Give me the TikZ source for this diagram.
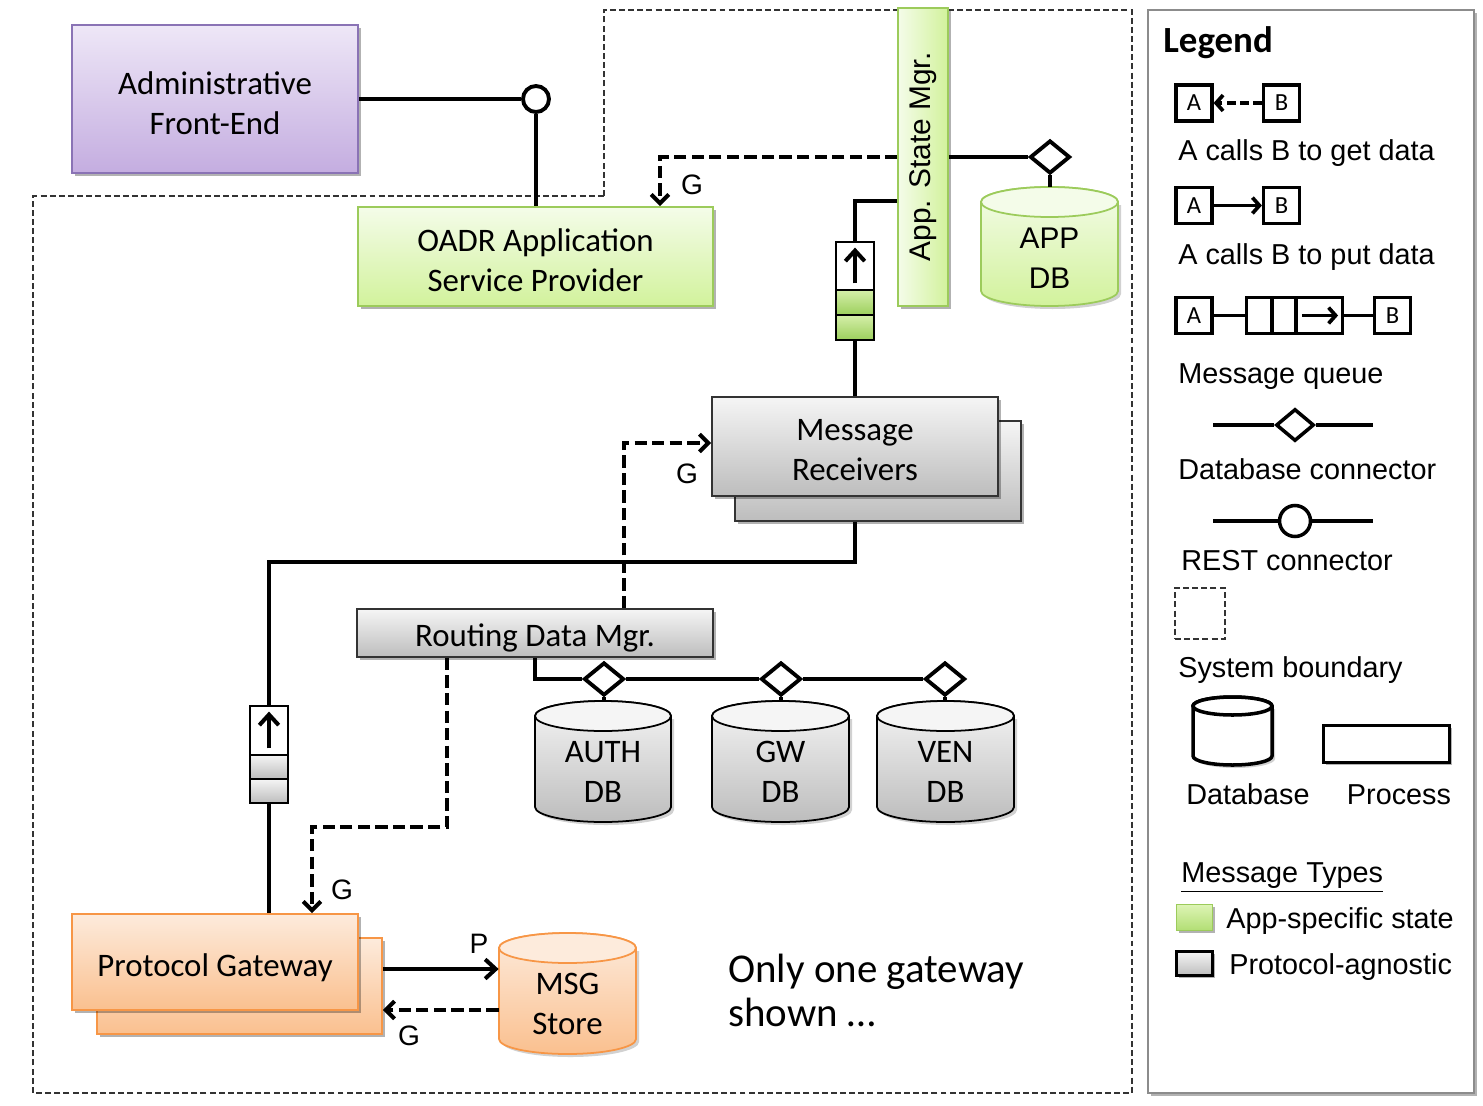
\documentclass[tikz,border=0pt]{standalone}
\usepackage{fontspec}
\usepackage{graphicx}
\setmainfont{Liberation Sans}
\newfontfamily\calfont{Carlito}
\usetikzlibrary{arrows.meta,shapes.geometric,shadows,calc}

\definecolor{purT}{HTML}{EEE7F7}
\definecolor{purB}{HTML}{C4ADE0}
\definecolor{purD}{HTML}{8A73B5}
\definecolor{grnT}{HTML}{F4FCE9}
\definecolor{grnB}{HTML}{D2F29C}
\definecolor{grnD}{HTML}{9CCB5B}
\definecolor{gryT}{HTML}{F5F5F5}
\definecolor{gryB}{HTML}{BDBDBD}
\definecolor{gryD}{HTML}{333333}
\definecolor{orgT}{HTML}{FDEBDC}
\definecolor{orgB}{HTML}{FAC08F}
\definecolor{orgD}{HTML}{F79646}
\definecolor{qgT}{HTML}{D5EFA9}
\definecolor{qgB}{HTML}{9CCF5D}
\definecolor{lgT}{HTML}{DDF4B5}
\definecolor{lgB}{HTML}{B2DE74}
\definecolor{legD}{HTML}{8C8C8C}

% cx, half width, top y, bottom y, ry, shading, draw opts, top fill
\newcommand{\dbcyl}[8]{%
  \fill[black,opacity=0.18] (#1-#2+3,#3+#5+3) -- (#1-#2+3,#4-#5+3)
     arc[start angle=180,end angle=0,x radius=#2,y radius=#5]
     -- (#1+#2+3,#3+#5+3) -- cycle;
  \path[#6,#7] (#1-#2,#3+#5) -- (#1-#2,#4-#5)
     arc[start angle=180,end angle=0,x radius=#2,y radius=#5]
     -- (#1+#2,#3+#5)
     arc[start angle=0,end angle=-180,x radius=#2,y radius=#5] -- cycle;
  \path[#7,fill=#8] (#1,#3+#5) ellipse[x radius=#2,y radius=#5];
}

\begin{document}
\begin{tikzpicture}[x=0.02cm,y=-0.02cm,
  conn/.style={line width=2.3pt},
  getarr/.style={line width=2.3pt, dash pattern=on 7pt off 3pt, -{Straight Barb[length=5pt,width=10pt]}},
  putarr/.style={line width=2.3pt, -{Straight Barb[length=6pt,width=11pt]}},
  sysb/.style={line width=0.85pt, dash pattern=on 3.4pt off 1.8pt, draw=black!80},
  boxtext/.style={font=\calfont\fontsize{18.7}{22.5}\selectfont, align=center, text=black, inner sep=0pt},
  arialtext/.style={font=\fontsize{17}{22.7}\selectfont, align=center, text=black},
  shad/.style={drop shadow={shadow xshift=1.5pt, shadow yshift=-1.5pt, opacity=0.3, fill=black}},
  proc/.style={rectangle, inner sep=0pt, line width=1pt, shad},
  purplebox/.style={proc, top color=purT, bottom color=purB, draw=purD},
  greenbox/.style={proc, top color=grnT, bottom color=grnB, draw=grnD},
  graybox/.style={proc, top color=gryT, bottom color=gryB, draw=gryD},
  orangebox/.style={proc, top color=orgT, bottom color=orgB, draw=orgD},
  qcell/.style={rectangle, draw=black, line width=1.6pt, inner sep=0pt, minimum width=0.76cm},
  dbconn/.style={diamond, draw=black, fill=white, line width=2.2pt, inner sep=0pt, minimum width=0.8cm, minimum height=0.66cm},
  restconn/.style={circle, draw=black, fill=white, line width=2.2pt, inner sep=0pt, minimum size=0.52cm},
  lbl/.style={font=\fontsize{16}{19}\selectfont, inner sep=0pt},
  legtxt/.style={font=\fontsize{16.4}{19}\selectfont, inner sep=0pt, anchor=west, text height=12pt, text depth=3.5pt},
  legbox/.style={rectangle, draw=black, line width=1.8pt, inner sep=0pt, minimum size=0.72cm, font=\calfont\fontsize{14}{16}\selectfont},
  lconn/.style={line width=2.1pt},
  lgetarr/.style={line width=2.1pt, dash pattern=on 5pt off 2.5pt, -{Straight Barb[length=4pt,width=9pt]}},
  lputarr/.style={line width=2.1pt, -{Straight Barb[length=4pt,width=9pt]}}
]
\useasboundingbox (0,0) rectangle (1483,1105);

% system boundary
\draw[sysb] (604,196) -- (604,10) -- (1132,10) -- (1132,1093) -- (33,1093) -- (33,196) -- cycle;

% legend frame
\node[rectangle, draw=legD, line width=1.2pt, fill=white, minimum width=6.52cm, minimum height=21.66cm, inner sep=0pt, shad] (legend) at (1311,551.5) {};

% main boxes
\node[purplebox, minimum width=5.72cm, minimum height=2.96cm] (admin) at (215,99) {};
\node[boxtext] (admint) at (215,103) {Administrative\\Front-End};
\node[greenbox, minimum width=7.1cm, minimum height=1.98cm] (oadr) at (535.5,256.5) {};
\node[boxtext] (oadrt) at (535.5,260) {OADR Application\\Service Provider};
\node[proc, left color=grnT, right color=grnB, draw=grnD, minimum width=1cm, minimum height=5.96cm, font=\fontsize{17}{20}\selectfont] (asm) at (923,157) {\rotatebox{90}{App. State Mgr.}};
\node[graybox, minimum width=5.72cm, minimum height=2cm] (mrback) at (878,471) {};
\node[graybox, minimum width=5.72cm, minimum height=1.98cm] (mr) at (855,446.5) {};
\node[boxtext] (mrt) at (855,450) {Message\\Receivers};
\node[graybox, minimum width=7.12cm, minimum height=0.96cm] (rdm) at (535,633) {};
\node[boxtext] (rdmt) at (535,638) {Routing Data Mgr.};
\node[orangebox, minimum width=5.7cm, minimum height=1.92cm] (pgback) at (239.5,986) {};
\node[orangebox, minimum width=5.72cm, minimum height=1.92cm] (pg) at (215,962) {};
\node[boxtext] (pgt) at (215,968) {Protocol Gateway};

% queues
\node[qcell, fill=white, minimum height=0.96cm] (q1a) at (855,266) {};
\node[qcell, top color=qgT, bottom color=qgB, minimum height=0.5cm] (q1b) at (855,302.5) {};
\node[qcell, top color=qgT, bottom color=qgB, minimum height=0.5cm] (q1c) at (855,327.5) {};
\node[qcell, fill=white, minimum height=0.98cm] (q2a) at (269,730.5) {};
\node[qcell, top color=gryT, bottom color=gryB, minimum height=0.48cm] (q2b) at (269,767) {};
\node[qcell, top color=gryT, bottom color=gryB, minimum height=0.48cm] (q2c) at (269,791) {};

% databases
\dbcyl{1049.5}{68.5}{187}{306}{15}{top color=grnT, bottom color=grnB}{draw=grnD, line width=1pt}{grnT}
\dbcyl{603}{68}{701}{822}{15}{top color=gryT, bottom color=gryB}{draw=black, line width=1pt}{gryT}
\dbcyl{780.5}{68.5}{701}{822}{15}{top color=gryT, bottom color=gryB}{draw=black, line width=1pt}{gryT}
\dbcyl{945.5}{68.5}{701}{822}{15}{top color=gryT, bottom color=gryB}{draw=black, line width=1pt}{gryT}
\dbcyl{567.5}{68.5}{933}{1054}{15}{top color=orgT, bottom color=orgB}{draw=orgD, line width=1pt}{orgT}

\node[arialtext, minimum width=2.74cm, inner sep=0pt] (appdb) at (1049.5,258) {APP\\DB};
\node[boxtext, minimum width=2.72cm] (authdb) at (603,772) {AUTH\\DB};
\node[boxtext, minimum width=2.74cm] (gwdb) at (780.5,772) {GW\\DB};
\node[boxtext, minimum width=2.74cm] (vendb) at (945.5,772) {VEN\\DB};
\node[boxtext, minimum width=2.74cm] (msg) at (567.5,1004) {MSG\\Store};

\coordinate (appdbtop) at (1050,187);
\coordinate (authtop) at (604,701);
\coordinate (gwtop) at (781,701);
\coordinate (ventop) at (945,701);

% connector symbols
\node[restconn] (rest) at (536,99) {};
\node[dbconn] (appdia) at (1050,157) {};
\node[dbconn] (authdia) at (604,679) {};
\node[dbconn] (gwdia) at (781,679) {};
\node[dbconn] (vendia) at (945,679) {};

% connectors
\draw[conn] (admin.east) -- (rest.west);
\draw[conn] (rest.south) -- (rest.south |- oadr.north);
\draw[getarr] (asm.west) -| ([xshift=2.49cm]oadr.north);
\draw[conn] (asm.east) -- (appdia.west);
\draw[conn] (appdia.south) -- (appdbtop);
\draw[conn] ([yshift=-0.88cm]asm.west) -| (q1a.north);
\draw[conn] (q1c.south) -- (mr.north);
\draw[putarr] ([yshift=0.16cm]q1a.south) -- ([yshift=-0.14cm]q1a.north);
\draw[conn] (mrback.south -| mr.south) -- ++(0,40) -| (q2a.north);
\draw[conn] (q2c.south) -- (q2c.south |- pg.north);
\draw[putarr] ([yshift=0.16cm]q2a.south) -- ([yshift=-0.14cm]q2a.north);
\draw[getarr] ([xshift=1.78cm]rdm.north) |- ([yshift=0.07cm]mr.west);
\draw[conn] (rdm.south) |- (authdia.west);
\draw[conn] (authdia.east) -- (gwdia.west);
\draw[conn] (gwdia.east) -- (vendia.west);
\draw[conn] (authdia.south) -- (authtop);
\draw[conn] (gwdia.south) -- (gwtop);
\draw[conn] (vendia.south) -- (ventop);
\draw[getarr] ([xshift=-1.76cm]rdm.south) -- ++(0,169) -| ([xshift=1.94cm]pg.north);
\draw[putarr] ([yshift=0.34cm]pgback.east) -- ([yshift=0.34cm]pgback.east -| msg.west);
\draw[getarr] ([yshift=-0.48cm]pgback.east -| msg.west) -- ([yshift=-0.48cm]pgback.east);

% labels
\node[lbl] (g1) at (692,185) {G};
\node[lbl] (g2) at (687,474) {G};
\node[lbl] (g3) at (342,890) {G};
\node[lbl] (p1) at (479,944) {P};
\node[lbl] (g4) at (409,1036) {G};

\node[font=\calfont\fontsize{23.3}{25}\selectfont, anchor=west, align=left, inner sep=0pt] (note) at (728,990) {Only one gateway\\shown …};

% legend
\node[font=\calfont\bfseries\fontsize{21}{25}\selectfont, anchor=west, inner sep=0pt] (legtitle) at (1163,43) {Legend};

\node[legbox] (la1) at (1194,103) {A};
\node[legbox] (lb1) at (1281.5,103) {B};
\draw[lgetarr] (lb1.west) -- (la1.east);
\node[legtxt] (lt1) at (1178,153) {A calls B to get data};

\node[legbox] (la2) at (1194,205.5) {A};
\node[legbox] (lb2) at (1281.5,205.5) {B};
\draw[lputarr] (la2.east) -- (lb2.west);
\node[legtxt] (lt2) at (1178,257) {A calls B to put data};

\node[legbox] (la3) at (1194,315.5) {A};
\node[legbox, minimum width=0.5cm] (lq1) at (1259,315.5) {};
\node[legbox, minimum width=0.48cm] (lq2) at (1284,315.5) {};
\node[legbox, minimum width=0.92cm] (lq3) at (1319.5,315.5) {};
\node[legbox] (lb3) at (1392.5,315.5) {B};
\draw[lconn] (la3.east) -- (lq1.west);
\draw[lconn] (lq3.east) -- (lb3.west);
\draw[lputarr] ([xshift=0.14cm]lq3.west) -- ([xshift=-0.12cm]lq3.east);
\node[legtxt] (lt3) at (1178,376) {Message queue};

\coordinate (ldL) at (1213,425);
\coordinate (ldR) at (1373,425);
\node[dbconn, minimum width=0.76cm, minimum height=0.64cm, line width=2pt] (ldia) at (1295,425) {};
\draw[lconn] (ldL) -- (ldia.west);
\draw[lconn] (ldia.east) -- (ldR);
\node[legtxt] (lt4) at (1178,472) {Database connector};

\coordinate (lrL) at (1213,521);
\coordinate (lrR) at (1373,521);
\node[restconn, minimum size=0.62cm, line width=2pt] (lrc) at (1295,521) {};
\draw[lconn] (lrL) -- (lrc.west);
\draw[lconn] (lrc.east) -- (lrR);
\node[legtxt] (lt5) at (1181,563) {REST connector};

\node[sysb, draw, rectangle, minimum width=1cm, minimum height=1.02cm, inner sep=0pt] (lsys) at (1200,613.5) {};
\node[legtxt] (lt6) at (1178,670) {System boundary};

\dbcyl{1232.5}{39.5}{697}{765}{9}{fill=white}{draw=black, line width=2pt}{white}
\node[rectangle, draw=black, line width=2pt, minimum width=2.52cm, minimum height=0.74cm, inner sep=0pt, shad, fill=white] (lproc) at (1386.5,744) {};
\node[legtxt, anchor=center] (lt7) at (1248,797) {Database};
\node[legtxt, anchor=center] (lt8) at (1399,797) {Process};

\node[legtxt] (lt9) at (1181,875) {\underline{Message Types}};
\node[rectangle, top color=lgT, bottom color=lgB, draw=grnD, line width=1pt, minimum width=0.72cm, minimum height=0.52cm, inner sep=0pt, shad] (lgsq) at (1194.5,917.5) {};
\node[legtxt] (lt10) at (1226,921) {App-specific state};
\node[rectangle, top color=gryT, bottom color=gryB, draw=black, line width=1.2pt, minimum width=0.72cm, minimum height=0.48cm, inner sep=0pt, shad] (lgysq) at (1194.5,963.5) {};
\node[legtxt] (lt11) at (1229,967) {Protocol-agnostic};
\end{tikzpicture}
\end{document}
